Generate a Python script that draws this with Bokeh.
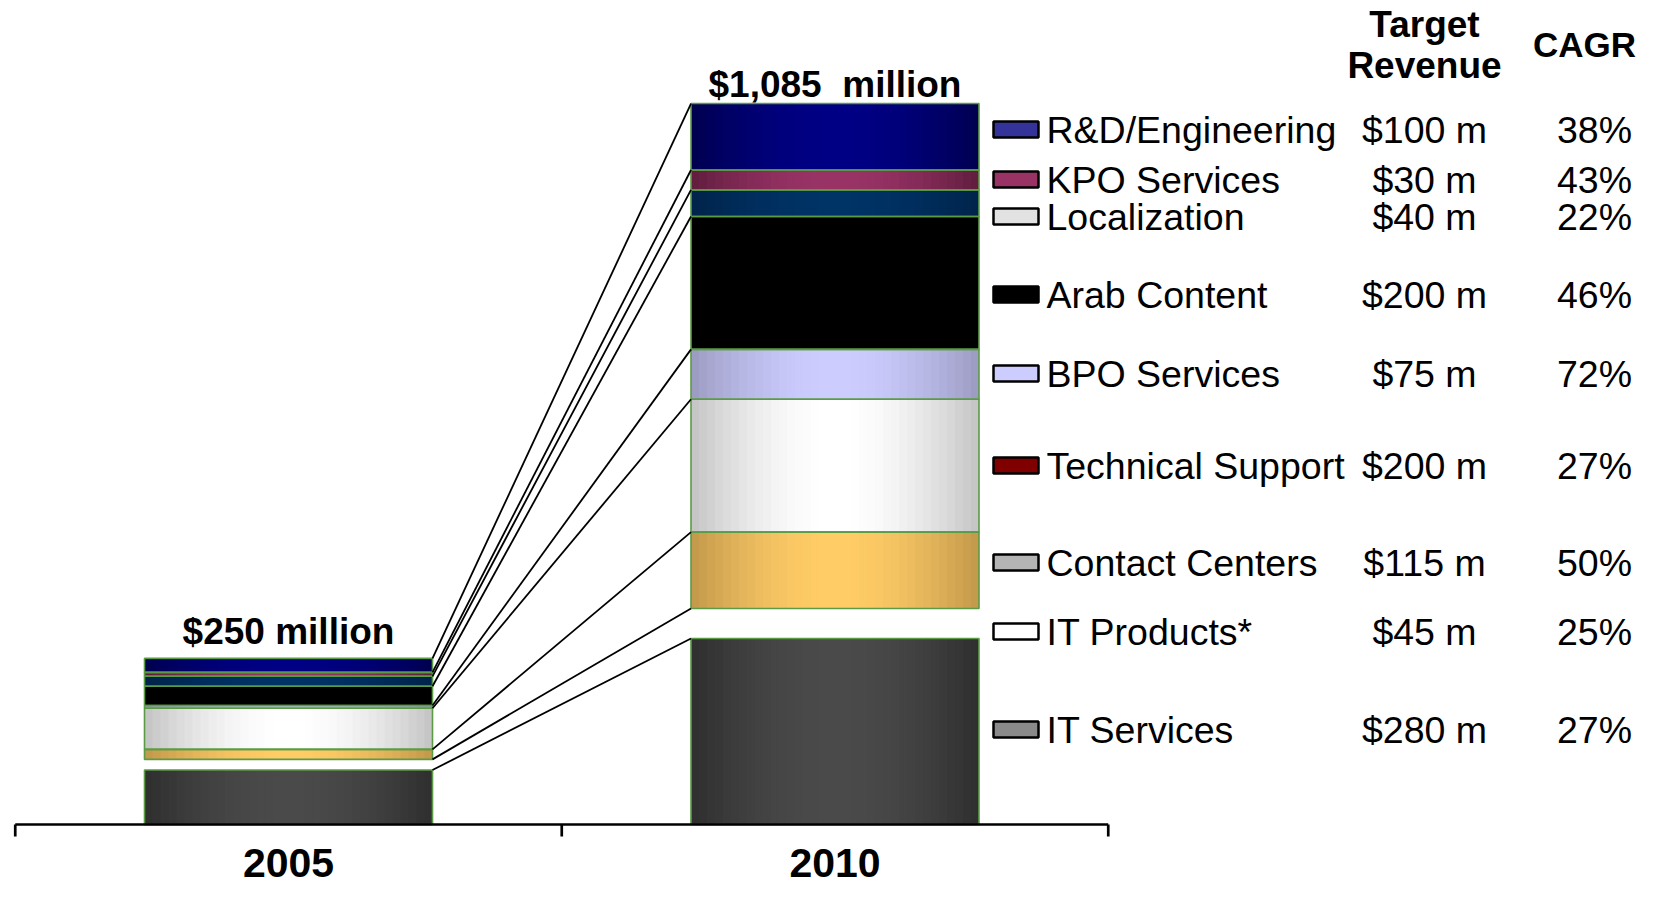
import math
from bokeh.plotting import figure
from bokeh.models import Range1d
from bokeh.core.properties import value
from bokeh.embed import file_html
from bokeh.resources import INLINE

# ---------------- data ----------------
years = ["2005", "2010"]
segments = ["IT Services", "IT Products*", "Contact Centers", "Technical Support",
            "BPO Services", "Arab Content", "Localization", "KPO Services",
            "R&D/Engineering"]                      # bottom -> top
rev_2005 = [82, 16, 15, 62, 4, 29, 15, 6, 21]      # $ million
rev_2010 = [280, 45, 115, 200, 75, 200, 40, 30, 100]
target_revenue = ["$280 m", "$45 m", "$115 m", "$200 m", "$75 m",
                  "$200 m", "$40 m", "$30 m", "$100 m"]
cagr = ["27%", "25%", "50%", "27%", "72%", "46%", "22%", "43%", "38%"]
total_labels = ["$250 million", "$1,085\u00a0 million"]
header_revenue = ["Target", "Revenue"]
header_cagr = "CAGR"

# ---------------- styles / layout ----------------
bar_edge = ["#2e2e2e", "#ffffff", "#c0974a", "#c2c2c2", "#9a9ac0",
            "#000000", "#00234a", "#5e1c3c", "#00004e"]
bar_center = ["#4a4a4a", "#ffffff", "#ffcc66", "#ffffff", "#ccccff",
              "#000000", "#003366", "#993366", "#000084"]
has_outline = [True, False, True, True, True, True, True, True, True]
legend_fill = ["#8a8a8a", "#ffffff", "#b4b4b4", "#800000", "#ccccff",
               "#000000", "#e2e2e2", "#993366", "#333399"]
legend_row_px = [729, 631, 562, 465, 373, 294, 216, 179, 129]  # picture px, bottom -> top
outline_green = "#5b9b45"
FONT = value("Liberation Sans")

# picture geometry -> data units
X0, UX = 288.0, 546.5      # px of x=0, px per category unit
Y0, UY = 824.0, 0.6645     # px of y=0, px per $ million
W, H = 1643, 888


def dx(px):
    return px / UX


def dy(px):
    return px / UY


def xp(px):
    return (px - X0) / UX


def yp(px):
    return (Y0 - px) / UY


def mix(c1, c2, t):
    a = [int(c1[i:i + 2], 16) for i in (1, 3, 5)]
    b = [int(c2[i:i + 2], 16) for i in (1, 3, 5)]
    return "#%02x%02x%02x" % tuple(round(a[k] + (b[k] - a[k]) * t) for k in range(3))


p = figure(width=W, height=H, output_backend="svg", toolbar_location=None,
           x_range=Range1d(xp(0), xp(W)), y_range=Range1d(yp(H), yp(0)),
           x_axis_location=None, y_axis_location=None, min_border=0)
p.grid.visible = False
p.outline_line_color = None
p.background_fill_color = "white"
p.border_fill_color = "white"

bar_w = dx(288)
series = [rev_2005, rev_2010]
xs = [0.0, 1.0]

tops_by_year = []
for xc, vals in zip(xs, series):
    cum = 0.0
    tops = []
    N = 36
    step = bar_w / N
    right_edge = xc + bar_w / 2
    sl, sr, sb, st, sc = [], [], [], [], []
    ol, orr, ob, ot = [], [], [], []
    for i, v in enumerate(vals):
        bottom, top = cum, cum + v
        for k in range(N):
            left = xc - bar_w / 2 + k * step
            t = (k + 0.5) / N
            wgt = math.sin(math.pi * t) ** 0.9
            sl.append(left)
            sr.append(min(left + step * 1.8, right_edge))
            sb.append(bottom)
            st.append(top)
            sc.append(mix(bar_edge[i], bar_center[i], wgt))
        if has_outline[i]:
            ol.append(xc - bar_w / 2)
            orr.append(xc + bar_w / 2)
            ob.append(bottom)
            ot.append(top)
        cum = top
        tops.append(top)
    tops_by_year.append(tops)
    p.quad(left=sl, right=sr, bottom=sb, top=st, fill_color=sc, line_color=None)
    p.quad(left=ol, right=orr, bottom=ob, top=ot, fill_color=None,
           line_color=outline_green, line_width=1.6)

# connector lines between segment tops
p.segment(x0=[xs[0] + bar_w / 2] * len(segments), y0=tops_by_year[0],
          x1=[xs[1] - bar_w / 2] * len(segments), y1=tops_by_year[1],
          line_color="black", line_width=1.8)

# totals above bars (cap centre offset above bar top, px)
totals = [sum(rev_2005), sum(rev_2010)]
total_offsets_px = [27, 19]
p.text(x=xs, y=[t + dy(o) for t, o in zip(totals, total_offsets_px)], text=total_labels,
       text_font=FONT, text_font_size="37px", text_font_style="bold",
       text_align="center", text_baseline="middle", text_color="black")

# category axis
p.segment(x0=[-0.5], y0=[0], x1=[1.5], y1=[0], line_color="black", line_width=2.7)
p.segment(x0=[-0.5, 0.5, 1.5], y0=[0] * 3, x1=[-0.5, 0.5, 1.5], y1=[-dy(12)] * 3,
          line_color="black", line_width=2.7)
p.text(x=xs, y=[yp(862)] * 2, text=years, text_font=FONT, text_font_size="41px",
       text_font_style="bold", text_align="center", text_baseline="middle",
       text_color="black")

# legend table
rows = [yp(r) for r in legend_row_px]
sw_h = dy(16)
p.quad(left=[xp(993)] * len(rows), right=[xp(1038)] * len(rows),
       bottom=[r - sw_h / 2 for r in rows], top=[r + sw_h / 2 for r in rows],
       fill_color=legend_fill, line_color="black", line_width=2.5)
p.text(x=[xp(1046)] * len(rows), y=rows, text=segments, text_font=FONT,
       text_font_size="37.5px", text_align="left", text_baseline="middle",
       text_color="black")
p.text(x=[xp(1424)] * len(rows), y=rows, text=target_revenue, text_font=FONT,
       text_font_size="37.5px", text_align="center", text_baseline="middle",
       text_color="black")
p.text(x=[xp(1594)] * len(rows), y=rows, text=cagr, text_font=FONT,
       text_font_size="37.5px", text_align="center", text_baseline="middle",
       text_color="black")

# column headers
p.text(x=[xp(1424)] * 2, y=[yp(24), yp(65)], text=header_revenue,
       text_font=FONT, text_font_size="37px", text_font_style="bold",
       text_align="center", text_baseline="middle", text_color="black")
p.text(x=[xp(1584)], y=[yp(44)], text=[header_cagr],
       text_font=FONT, text_font_size="35px", text_font_style="bold",
       text_align="center", text_baseline="middle", text_color="black")

open("out.html", "w").write(file_html(p, INLINE))
